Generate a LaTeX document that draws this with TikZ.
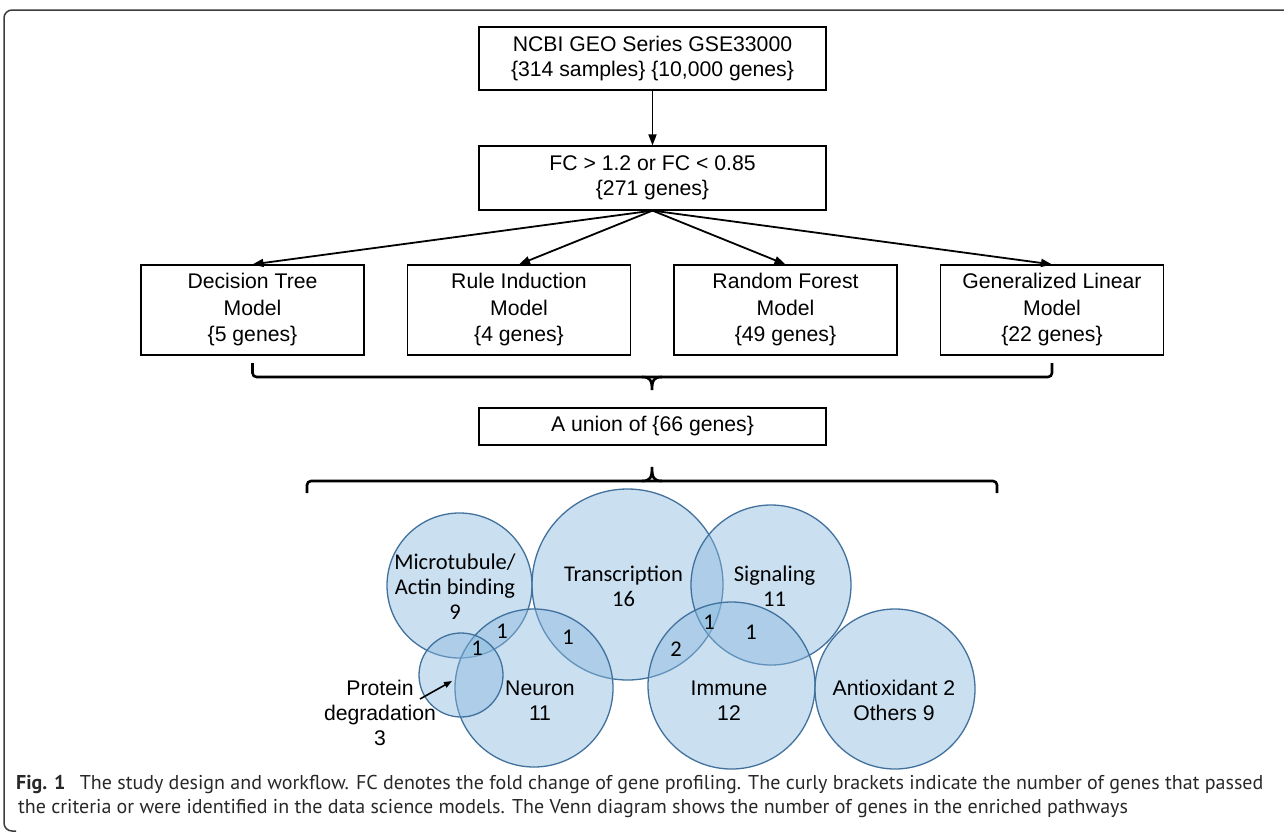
\documentclass[tikz,border=0pt]{standalone}
\usepackage{fontspec}
\setmainfont{Liberation Sans}
\newfontfamily\calfont{Carlito}
\newfontfamily\capfont{PT Sans}
\usetikzlibrary{arrows.meta}

\definecolor{vennfill}{RGB}{137,184,222}
\definecolor{vennline}{RGB}{65,113,156}
\definecolor{framegray}{RGB}{60,60,60}
\definecolor{capgray}{RGB}{40,40,40}

\tikzset{
  box/.style={draw, line width=1.2pt, minimum width=347pt, minimum height=63pt,
    inner sep=0pt, align=center, font=\fontsize{21.2}{25}\selectfont},
  modelbox/.style={box, minimum width=223pt, minimum height=90pt,
    font=\fontsize{21.2}{26.5}\selectfont},
  flow/.style={-{Triangle[length=11pt,width=8pt]}, line width=1.8pt},
  curly/.style={line width=2.6pt, rounded corners=4pt},
  venn/.style={fill=vennfill, fill opacity=0.45, draw=vennline, line width=1.3pt},
  vlabel/.style={font=\fontsize{21.2}{25}\selectfont, align=center, inner sep=0pt},
  clabel/.style={font=\calfont\fontsize{22.5}{25}\selectfont, align=center, inner sep=0pt},
  captext/.style={anchor=base west, inner sep=0pt, text=capgray,
    font=\capfont\fontsize{20}{22}\selectfont},
}

\begin{document}
\begin{tikzpicture}[x=1pt,y=-1pt]
  \useasboundingbox (0,0) rectangle (1284,835);
  % frame
  \draw[framegray, line width=1.5pt, rounded corners=8pt] (1284,10) -- (4,10) -- (4,831) -- (16,831);

  % workflow boxes
  \node[box] (src) at (652.5,58.5) {NCBI GEO Series GSE33000\\\{314 samples\} \{10,000 genes\}};
  \node[box, minimum height=64pt] (filt) at (652.5,178) {FC > 1.2 or FC < 0.85\\\{271 genes\}};
  \node[modelbox] (dt) at (252.5,310) {Decision Tree\\Model\\\{5 genes\}};
  \node[modelbox] (ri) at (519,310) {Rule Induction\\Model\\\{4 genes\}};
  \node[modelbox] (rf) at (785.5,310) {Random Forest\\Model\\\{49 genes\}};
  \node[modelbox] (gl) at (1052,310) {Generalized Linear\\Model\\\{22 genes\}};
  \node[box, minimum height=37pt] (uni) at (652.5,426.5) {A union of \{66 genes\}};

  \draw[flow] (src) -- (filt);
  \foreach \m in {dt,ri,rf,gl}
    \draw[flow] (filt.south) -- (\m.north);

  % curly brackets
  \draw[curly] (252.5,363) -- (252.5,377) -- (1052,377) -- (1052,363);
  \draw[line width=2.6pt] (642,377) .. controls (650,377) and (652,380) .. (652,390)
    .. controls (652,380) and (654,377) .. (662,377);
  \draw[curly] (307,493) -- (307,481) -- (997,481) -- (997,493);
  \draw[line width=2.6pt] (642,481) .. controls (650,481) and (652,478) .. (652,467)
    .. controls (652,478) and (654,481) .. (662,481);

  % Venn diagram
  \draw[venn] (459.5,585.5) circle (72.5);
  \draw[venn] (627.5,584.5) circle (95.5);
  \draw[venn] (771,585) circle (80);
  \draw[venn] (534,688) circle (79);
  \draw[venn] (461,675) circle (42);
  \draw[venn] (731.5,685.5) circle (83.5);
  \draw[venn] (895,689) circle (80);

  \node[clabel] (mtb) at (455,587) {Microtubule/\\Actin binding\\9};
  \node[clabel] (trs) at (623.5,586.5) {Transcription\\16};
  \node[clabel] (sig) at (774.5,586.5) {Signaling\\11};
  \node[vlabel] (neu) at (540,700.5) {Neuron\\11};
  \node[vlabel] (imm) at (729,700.5) {Immune\\12};
  \node[vlabel] (aox) at (894,700) {Antioxidant 2\\Others 9};
  \node[vlabel] (prt) at (380,713) {Protein\\degradation\\3};

  \node[clabel] (mn) at (502,631) {1};
  \node[clabel] (pmn) at (477,648) {1};
  \node[clabel] (nt) at (568,637) {1};
  \node[clabel] (ti) at (676,649) {2};
  \node[clabel] (tsi) at (709,622) {1};
  \node[clabel] (si) at (751,632) {1};

  \coordinate (ptail) at (420,699);
  \coordinate (phead) at (452,681);
  \draw[-{Triangle[length=8pt,width=6pt]}, line width=1.6pt] (ptail) -- (phead);

  % caption
  \node[captext] (cap1) at (16,789) {\textbf{Fig. 1}\hspace{0.45em} The study design and workflow. FC denotes the fold change of gene profiling. The curly brackets indicate the number of genes that passed};
  \node[captext] (cap2) at (18,813) {the criteria or were identified in the data science models. The Venn diagram shows the number of genes in the enriched pathways};
\end{tikzpicture}
\end{document}
